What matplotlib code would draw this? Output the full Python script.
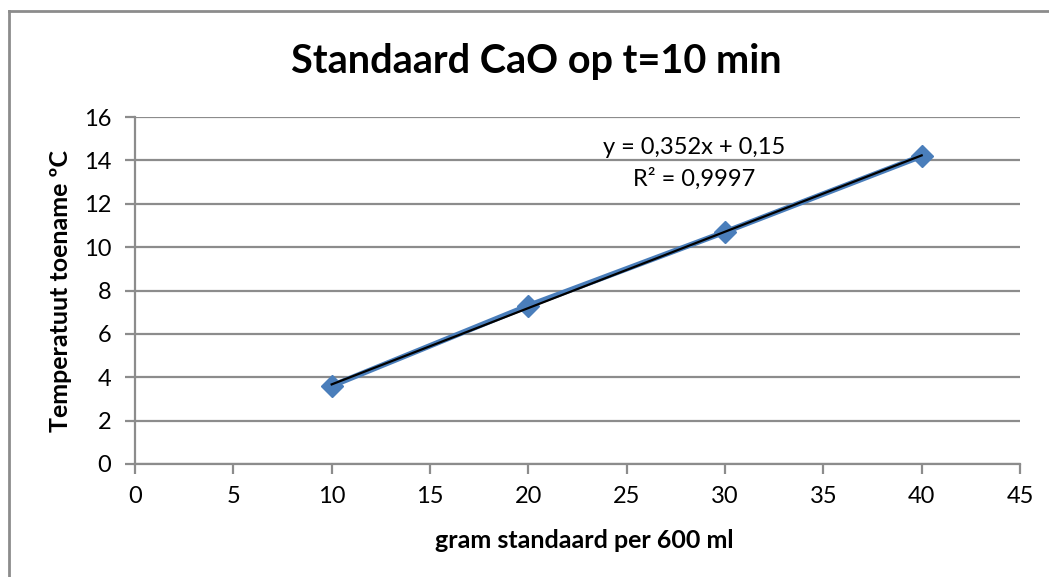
import matplotlib
matplotlib.use("Agg")
import matplotlib.pyplot as plt
import numpy as np
from matplotlib.lines import Line2D

# data
gram = [10, 20, 30, 40]
temp_rise = [3.6, 7.3, 10.7, 14.2]
x_ticks = [0, 5, 10, 15, 20, 25, 30, 35, 40, 45]
y_ticks = [0, 2, 4, 6, 8, 10, 12, 14, 16]

plt.rcParams["font.family"] = ["Lato", "DejaVu Sans"]

fig = plt.figure(figsize=(10.49, 5.77), dpi=100)
ax = fig.add_axes([135 / 1049, 1 - 464 / 577, 885 / 1049, 347 / 577])

grid_col = "#8c8c8c"
blue = "#4a7ebb"

ax.set_xlim(0, 45)
ax.set_ylim(0, 16)
ax.set_xticks(x_ticks)
ax.set_yticks(y_ticks)
ax.yaxis.grid(True, color=grid_col, lw=1.6)
ax.set_axisbelow(True)
for side in ["top", "right"]:
    ax.spines[side].set_visible(False)
for side in ["left", "bottom"]:
    ax.spines[side].set_color(grid_col)
    ax.spines[side].set_linewidth(1.6)
ax.tick_params(axis="both", colors=grid_col, width=1.6, length=7, labelsize=17,
               labelcolor="black")
ax.tick_params(axis="y", pad=10)
ax.tick_params(axis="x", pad=9)

# series
ax.plot(gram, temp_rise, color=blue, lw=4, marker="D", ms=11,
        mfc=blue, mec=blue, zorder=3)

# linear trendline
slope, icpt = np.polyfit(gram, temp_rise, 1)
xs = np.array([min(gram), max(gram)])
ax.plot(xs, slope * xs + icpt, color="black", lw=1.6, zorder=4)

pred = slope * np.array(gram) + icpt
ss_res = np.sum((np.array(temp_rise) - pred) ** 2)
ss_tot = np.sum((np.array(temp_rise) - np.mean(temp_rise)) ** 2)
r2 = 1 - ss_res / ss_tot

eq = f"y = {slope:.3f}x + {icpt:.2f}".replace(".", ",")
fig.text(694 / 1049, 1 - 147 / 577, eq, ha="center", va="center", fontsize=17)
fig.text(694 / 1049, 1 - 179 / 577, f"R² = {r2:.4f}".replace(".", ","),
         ha="center", va="center", fontsize=17)

fig.text(536 / 1049, 1 - 61 / 577, "Standaard CaO op t=10 min", ha="center",
         va="center", fontsize=28.5, fontweight="bold")
fig.text(584 / 1049, 1 - 541 / 577, "gram standaard per 600 ml", ha="center",
         va="center", fontsize=18, fontweight="bold")
fig.text(60 / 1049, 1 - 291 / 577, "Temperatuut toename ºC", ha="center",
         va="center", rotation=90, fontsize=18, fontweight="bold")

# outer chart border (left and top edges visible)
fig.add_artist(Line2D([9 / 1049, 9 / 1049], [0, 1 - 11 / 577], color="#8c8c8c",
                      lw=2, transform=fig.transFigure))
fig.add_artist(Line2D([9 / 1049, 1], [1 - 11 / 577, 1 - 11 / 577], color="#8c8c8c",
                      lw=2, transform=fig.transFigure))

fig.savefig("out.png", dpi=100)
